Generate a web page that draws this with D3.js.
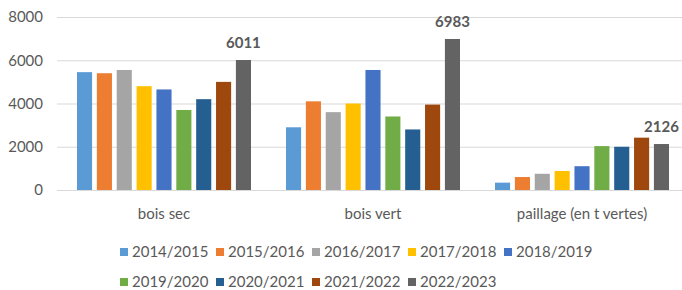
<!DOCTYPE html>
<html>
<head>
<meta charset="utf-8">
<script src="https://cdn.jsdelivr.net/npm/d3@7"></script>
<style>
  body { margin: 0; background: #fff; }
  svg { display: block; font-family: Lato, "Open Sans", sans-serif; }
</style>
</head>
<body>
<svg id="chart" width="682" height="290"></svg>
<script>
const categories = ['bois sec', 'bois vert', 'paillage (en t vertes)'];
const seasons = ['2014/2015', '2015/2016', '2016/2017', '2017/2018', '2018/2019',
  '2019/2020', '2020/2021', '2021/2022', '2022/2023'];
const boisSec = [5450, 5400, 5550, 4800, 4650, 3700, 4200, 5000, 6011];
const boisVert = [2900, 4100, 3600, 4000, 5550, 3400, 2800, 3950, 6983];
const paillage = [340, 600, 750, 880, 1100, 2030, 2000, 2420, 2126];
const yTicks = [0, 2000, 4000, 6000, 8000];
const palette = ['#5b9bd5', '#ed7d31', '#a5a5a5', '#ffc000', '#4472c4',
  '#70ad47', '#255e91', '#9e480e', '#636363'];

const seriesByCat = [boisSec, boisVert, paillage];
const svg = d3.select('#chart');

let x0 = d3.scaleBand()
  .domain(categories)
  .range([59.5, 686.5])
  .paddingInner(0.1675)
  .paddingOuter(0.0837);

let x1 = d3.scaleBand()
  .domain(seasons)
  .range([0, x0.bandwidth()])
  .paddingInner(0.24);

let y = d3.scaleLinear().domain([0, 8000]).range([190, 17]);
let color = d3.scaleOrdinal().domain(seasons).range(palette);

// gridlines + tick labels
let yAxis = d3.axisLeft(y).tickValues(yTicks).tickFormat(d3.format('d'))
  .tickSize(-625).tickPadding(14);
let gy = svg.append('g').attr('transform', 'translate(57,0)').call(yAxis);
gy.select('.domain').remove();
gy.selectAll('line').attr('stroke', '#d9d9d9');
gy.selectAll('text')
  .attr('fill', '#595959')
  .attr('font-size', 15)
  .attr('font-family', 'Lato, sans-serif');

// bars
categories.forEach((cat, ci) => {
  let g = svg.append('g').attr('transform', `translate(${x0(cat)},0)`);
  seasons.forEach((s, si) => {
    let v = seriesByCat[ci][si];
    g.append('rect')
      .attr('x', x1(s))
      .attr('y', y(v))
      .attr('width', x1.bandwidth())
      .attr('height', y(0) - y(v))
      .attr('fill', color(s));
  });
  // data label on the last season
  let last = seasons[seasons.length - 1];
  let lv = seriesByCat[ci][seasons.length - 1];
  g.append('text')
    .attr('x', x1(last) + x1.bandwidth() / 2)
    .attr('y', y(lv) - 12)
    .attr('text-anchor', 'middle')
    .attr('font-size', 15)
    .attr('font-weight', 'bold')
    .attr('fill', '#595959')
    .text(lv);
});

// category labels
let xAxis = d3.axisBottom(x0).tickSize(0).tickPadding(18);
let gx = svg.append('g').attr('transform', 'translate(0,190)').call(xAxis);
gx.select('.domain').remove();
gx.selectAll('text')
  .attr('fill', '#595959')
  .attr('font-size', 15)
  .attr('font-family', 'Lato, sans-serif');

// legend, two rows
let rows = [seasons.slice(0, 5), seasons.slice(5)];
rows.forEach((row, ri) => {
  row.forEach((s, i) => {
    let lx = 120 + i * 96;
    let ly = 252 + ri * 30;
    svg.append('rect')
      .attr('x', lx).attr('y', ly - 4)
      .attr('width', 8).attr('height', 8)
      .attr('fill', color(s));
    svg.append('text')
      .attr('x', lx + 12).attr('y', ly)
      .attr('dy', '0.35em')
      .attr('font-size', 15)
      .attr('fill', '#595959')
      .text(s);
  });
});
</script>
</body>
</html>
